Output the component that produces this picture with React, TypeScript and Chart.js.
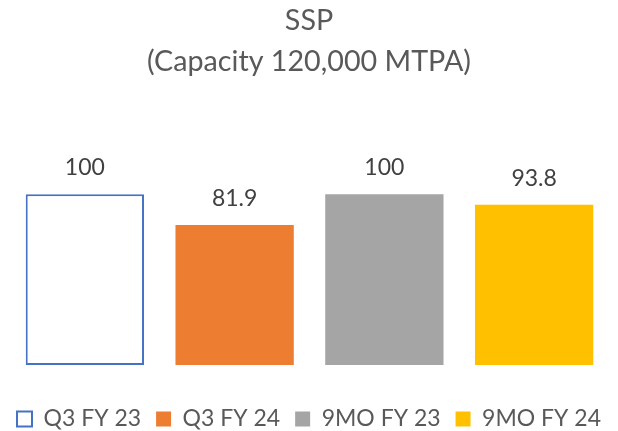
import React, { useEffect, useRef } from "react";
import { Chart, registerables } from "chart.js";

Chart.register(...registerables);

const titleLines = ["SSP", "(Capacity 120,000 MTPA)"];
const categories = ["Q3 FY 23", "Q3 FY 24", "9MO FY 23", "9MO FY 24"];
const values = [100, 81.9, 100, 93.8];
const fillColors = ["#FFFFFF", "#ED7D31", "#A5A5A5", "#FFC000"];
const borderColors = ["#4472C4", "#ED7D31", "#A5A5A5", "#FFC000"];
const borderWidths = [2, 0, 0, 0];

const FONT = "Lato, 'Open Sans', sans-serif";

const dataLabelPlugin = {
  id: "barValueLabels",
  afterDatasetsDraw(chart: any) {
    const ctx = chart.ctx;
    ctx.save();
    ctx.font = `23px ${FONT}`;
    ctx.fillStyle = "#404040";
    ctx.textAlign = "center";
    ctx.textBaseline = "alphabetic";
    chart.data.datasets.forEach((ds: any, i: number) => {
      const meta = chart.getDatasetMeta(i);
      meta.data.forEach((el: any, j: number) => {
        const v = ds.data[j];
        if (v === null || v === undefined) return;
        ctx.fillText(String(v), el.x, el.y - 19);
      });
    });
    ctx.restore();
  },
};

const hiddenEdgeAxis = (width: number, position: string) => ({
  type: "linear",
  position,
  display: true,
  grid: { display: false },
  border: { display: false },
  ticks: { display: false },
  afterFit(scale: any) {
    scale.width = width;
  },
});

export default function App() {
  const ref = useRef<HTMLCanvasElement | null>(null);

  useEffect(() => {
    document.body.style.margin = "0";
    if (!ref.current) return;
    const datasets = categories.map((c, i) => ({
      label: c,
      data: values.map((v, j) => (j === i ? v : null)),
      backgroundColor: fillColors[i],
      borderColor: borderColors[i],
      borderWidth: borderWidths[i],
      borderSkipped: false,
      grouped: false,
      barPercentage: 0.79,
      categoryPercentage: 1,
      yAxisID: "y",
    }));
    const yLeft: any = hiddenEdgeAxis(10, "left");
    yLeft.min = 0;
    yLeft.max = 120;
    const yRight: any = hiddenEdgeAxis(9, "right");
    const chart = new Chart(ref.current, {
      type: "bar",
      data: { labels: categories, datasets },
      options: {
        responsive: false,
        animation: false,
        layout: { padding: { top: 0, left: 0, right: 0, bottom: -9.5 } },
        scales: {
          x: { display: false },
          y: yLeft,
          y2: yRight,
        },
        plugins: {
          tooltip: { enabled: false },
          title: {
            display: true,
            text: titleLines,
            color: "#595959",
            font: { family: FONT, size: 28.7, weight: "normal", lineHeight: 41 / 28.7 },
            padding: { top: 0, bottom: 78 },
          },
          legend: {
            display: true,
            position: "bottom",
            title: {
              display: true,
              text: " ",
              color: "rgba(0,0,0,0)",
              font: { size: 10, lineHeight: 2.75 },
              padding: 0,
            },
            labels: {
              color: "#595959",
              font: { family: FONT, size: 23 },
              boxWidth: 15,
              boxHeight: 15,
              padding: 15,
            },
          },
        },
      } as any,
      plugins: [dataLabelPlugin],
    });
    return () => chart.destroy();
  }, []);

  return (
    <div style={{ width: 618, height: 431 }}>
      <canvas ref={ref} width={618} height={431} />
    </div>
  );
}
